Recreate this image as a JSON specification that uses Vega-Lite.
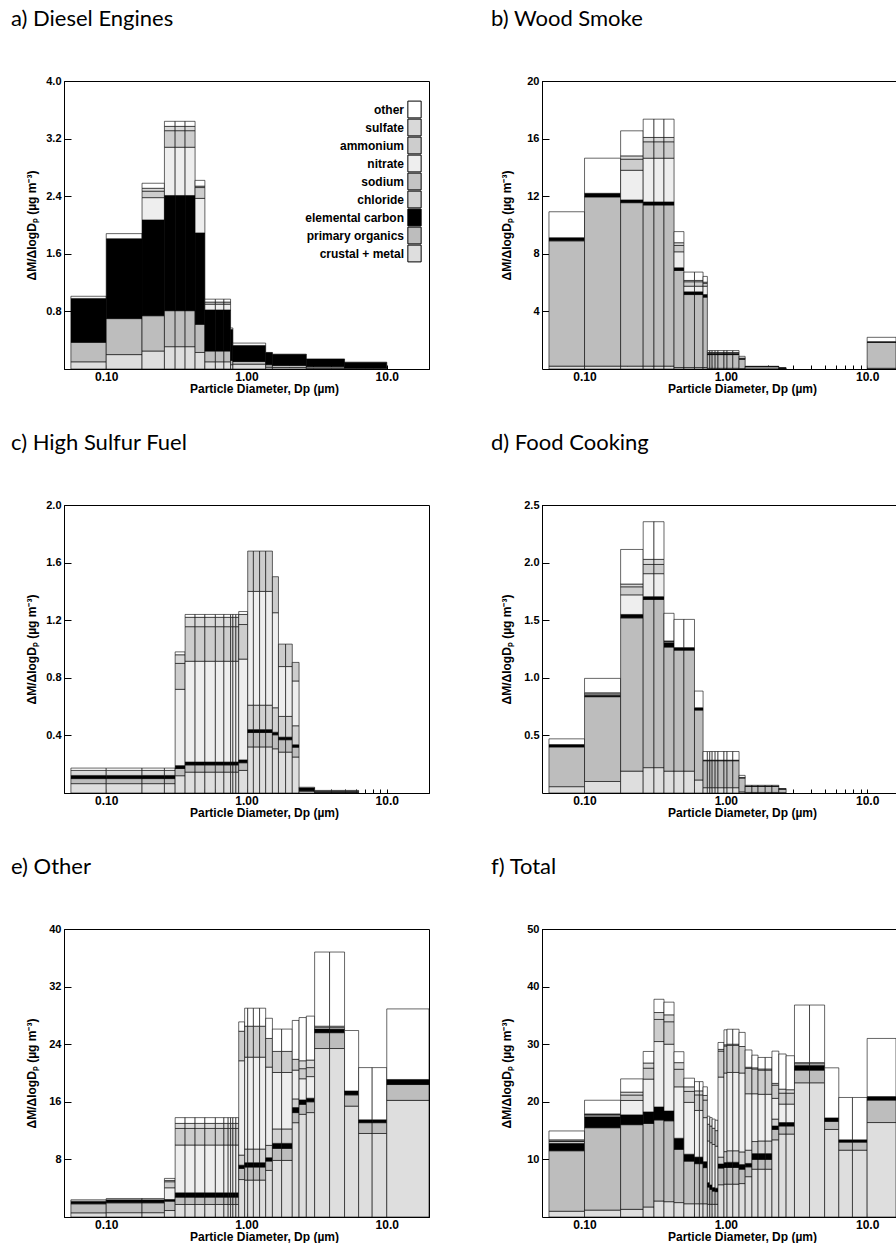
{
  "$schema": "https://vega.github.io/schema/vega-lite/v6.json",
  "background": "white",
  "padding": {"left": 10, "top": 7, "right": 0, "bottom": 0},
  "config": {
    "view": {"stroke": "black", "strokeWidth": 1},
    "axis": {"domainColor": "black", "tickColor": "black", "labelColor": "black", "titleColor": "black", "labelFont": "Liberation Sans", "labelFontWeight": "bold", "titleFont": "Liberation Sans", "titleFontWeight": "bold", "grid": false, "zindex": 1, "labelFlush": false, "labelOverlap": false},
    "axisX": {"labelFontSize": 12, "titleFontSize": 12, "tickSize": -4, "labelPadding": 6, "titlePadding": 1, "titleX": 200},
    "axisY": {"labelFontSize": 11, "titleFontSize": 12, "tickSize": -7, "labelPadding": 10},
    "title": {"font": "Lato", "fontSize": 22, "fontWeight": "normal", "anchor": "start", "frame": "group", "color": "black", "baseline": "alphabetic", "offset": 44}
  },
  "datasets": {
    "comp": [
      {"k": "c", "name": "crustal + metal", "ord": 1},
      {"k": "o", "name": "primary organics", "ord": 2},
      {"k": "e", "name": "elemental carbon", "ord": 3},
      {"k": "l", "name": "chloride", "ord": 4},
      {"k": "n", "name": "sodium", "ord": 5},
      {"k": "t", "name": "nitrate", "ord": 6},
      {"k": "a", "name": "ammonium", "ord": 7},
      {"k": "s", "name": "sulfate", "ord": 8},
      {"k": "r", "name": "other", "ord": 9}
    ],
    "bins": [
      {"p":"a","lo":0.056,"hi":0.1,"c":0.1,"o":0.27,"e":0.61,"r":0.03},
      {"p":"a","lo":0.1,"hi":0.18,"c":0.2,"o":0.5,"e":1.11,"r":0.07},
      {"p":"a","lo":0.18,"hi":0.26,"c":0.25,"o":0.49,"e":1.33,"t":0.31,"a":0.09,"s":0.04,"r":0.07},
      {"p":"a","lo":0.26,"hi":0.31,"c":0.31,"o":0.5,"e":1.6,"t":0.67,"a":0.23,"s":0.06,"r":0.07},
      {"p":"a","lo":0.31,"hi":0.365,"c":0.31,"o":0.5,"e":1.6,"t":0.67,"a":0.23,"s":0.06,"r":0.07},
      {"p":"a","lo":0.365,"hi":0.43,"c":0.31,"o":0.5,"e":1.6,"t":0.67,"a":0.23,"s":0.06,"r":0.07},
      {"p":"a","lo":0.43,"hi":0.505,"c":0.23,"o":0.39,"e":1.27,"t":0.48,"a":0.15,"s":0.02,"r":0.08},
      {"p":"a","lo":0.505,"hi":0.6,"c":0.1,"o":0.15,"e":0.57,"t":0.08,"a":0.03,"r":0.04},
      {"p":"a","lo":0.6,"hi":0.69,"c":0.1,"o":0.15,"e":0.57,"t":0.08,"a":0.03,"r":0.04},
      {"p":"a","lo":0.69,"hi":0.77,"c":0.1,"o":0.15,"e":0.57,"t":0.08,"a":0.03,"r":0.04},
      {"p":"a","lo":0.77,"hi":0.8,"c":0.06,"o":0.06,"e":0.43,"r":0.02},
      {"p":"a","lo":0.8,"hi":1.37,"c":0.067,"o":0.037,"e":0.223,"r":0.033},
      {"p":"a","lo":1.37,"hi":1.53,"c":0.025,"o":0.035,"e":0.165,"r":0.005},
      {"p":"a","lo":1.53,"hi":2.67,"c":0.02,"o":0.03,"e":0.15,"r":0.006},
      {"p":"a","lo":2.67,"hi":5,"c":0.01,"o":0.02,"e":0.11},
      {"p":"a","lo":5,"hi":10,"c":0.005,"o":0.01,"e":0.08},

      {"p":"b","lo":0.056,"hi":0.1,"c":0.2,"o":8.7,"e":0.22,"r":1.8},
      {"p":"b","lo":0.1,"hi":0.18,"c":0.2,"o":11.75,"e":0.25,"r":2.44},
      {"p":"b","lo":0.18,"hi":0.26,"c":0.2,"o":11.35,"e":0.19,"t":2.06,"a":0.77,"s":0.23,"r":1.74},
      {"p":"b","lo":0.26,"hi":0.31,"c":0.2,"o":11.19,"e":0.21,"t":3.04,"a":1.14,"s":0.3,"r":1.27},
      {"p":"b","lo":0.31,"hi":0.365,"c":0.2,"o":11.19,"e":0.21,"t":3.04,"a":1.14,"s":0.3,"r":1.27},
      {"p":"b","lo":0.365,"hi":0.43,"c":0.2,"o":11.19,"e":0.21,"t":3.04,"a":1.14,"s":0.3,"r":1.27},
      {"p":"b","lo":0.43,"hi":0.505,"c":0.1,"o":6.74,"e":0.19,"t":1.11,"a":0.44,"s":0.19,"r":0.77},
      {"p":"b","lo":0.505,"hi":0.6,"c":0.1,"o":5.07,"e":0.19,"t":0.39,"a":0.31,"s":0.09,"r":0.58},
      {"p":"b","lo":0.6,"hi":0.69,"c":0.1,"o":5.07,"e":0.19,"t":0.39,"a":0.31,"s":0.09,"r":0.58},
      {"p":"b","lo":0.69,"hi":0.74,"c":0.1,"o":4.89,"e":0.18,"t":0.58,"a":0.2,"s":0.08,"r":0.4},
      {"p":"b","lo":0.74,"hi":0.77,"c":0.05,"o":0.95,"e":0.05,"t":0.05,"a":0.05,"r":0.13},
      {"p":"b","lo":0.77,"hi":0.8,"c":0.05,"o":0.95,"e":0.05,"t":0.05,"a":0.05,"r":0.13},
      {"p":"b","lo":0.8,"hi":0.84,"c":0.05,"o":0.95,"e":0.05,"t":0.05,"a":0.05,"r":0.13},
      {"p":"b","lo":0.84,"hi":0.88,"c":0.05,"o":0.95,"e":0.05,"t":0.05,"a":0.05,"r":0.13},
      {"p":"b","lo":0.88,"hi":0.97,"c":0.05,"o":0.95,"e":0.05,"t":0.05,"a":0.05,"r":0.13},
      {"p":"b","lo":0.97,"hi":1.02,"c":0.05,"o":0.95,"e":0.05,"t":0.05,"a":0.05,"r":0.13},
      {"p":"b","lo":1.02,"hi":1.12,"c":0.05,"o":0.95,"e":0.05,"t":0.05,"a":0.05,"r":0.13},
      {"p":"b","lo":1.12,"hi":1.24,"c":0.05,"o":0.95,"e":0.05,"t":0.05,"a":0.05,"r":0.13},
      {"p":"b","lo":1.24,"hi":1.37,"c":0.03,"o":0.65,"e":0.04,"t":0.04,"r":0.12},
      {"p":"b","lo":1.37,"hi":2.37,"c":0.01,"o":0.15,"e":0.01,"r":0.02},
      {"p":"b","lo":2.37,"hi":2.67,"c":0.005,"o":0.06,"e":0.005,"r":0.01},
      {"p":"b","lo":10,"hi":20,"c":0.05,"o":1.8,"e":0.05,"r":0.3},

      {"p":"c","lo":0.056,"hi":0.1,"c":0.065,"o":0.035,"e":0.022,"s":0.035,"r":0.016},
      {"p":"c","lo":0.1,"hi":0.18,"c":0.065,"o":0.035,"e":0.022,"s":0.035,"r":0.016},
      {"p":"c","lo":0.18,"hi":0.26,"c":0.065,"o":0.035,"e":0.022,"s":0.035,"r":0.016},
      {"p":"c","lo":0.26,"hi":0.31,"c":0.065,"o":0.035,"e":0.022,"s":0.035,"r":0.016},
      {"p":"c","lo":0.31,"hi":0.365,"c":0.12,"o":0.05,"e":0.02,"t":0.53,"a":0.18,"s":0.06,"r":0.02},
      {"p":"c","lo":0.365,"hi":0.43,"c":0.145,"o":0.05,"e":0.02,"t":0.7,"a":0.24,"s":0.065,"r":0.02},
      {"p":"c","lo":0.43,"hi":0.505,"c":0.145,"o":0.05,"e":0.02,"t":0.7,"a":0.24,"s":0.065,"r":0.02},
      {"p":"c","lo":0.505,"hi":0.6,"c":0.145,"o":0.05,"e":0.02,"t":0.7,"a":0.24,"s":0.065,"r":0.02},
      {"p":"c","lo":0.6,"hi":0.69,"c":0.145,"o":0.05,"e":0.02,"t":0.7,"a":0.24,"s":0.065,"r":0.02},
      {"p":"c","lo":0.69,"hi":0.77,"c":0.145,"o":0.05,"e":0.02,"t":0.7,"a":0.24,"s":0.065,"r":0.02},
      {"p":"c","lo":0.77,"hi":0.8,"c":0.145,"o":0.05,"e":0.02,"t":0.7,"a":0.24,"s":0.065,"r":0.02},
      {"p":"c","lo":0.8,"hi":0.84,"c":0.145,"o":0.05,"e":0.02,"t":0.7,"a":0.24,"s":0.065,"r":0.02},
      {"p":"c","lo":0.84,"hi":0.88,"c":0.145,"o":0.05,"e":0.02,"t":0.7,"a":0.24,"s":0.065,"r":0.02},
      {"p":"c","lo":0.88,"hi":1.02,"c":0.157,"o":0.053,"e":0.02,"t":0.7,"a":0.24,"s":0.07,"r":0.02},
      {"p":"c","lo":1.02,"hi":1.12,"c":0.32,"o":0.1,"e":0.02,"t":0.79,"a":0.28,"l":0.17},
      {"p":"c","lo":1.12,"hi":1.24,"c":0.32,"o":0.1,"e":0.02,"t":0.79,"a":0.28,"l":0.17},
      {"p":"c","lo":1.24,"hi":1.37,"c":0.32,"o":0.1,"e":0.02,"t":0.79,"a":0.28,"l":0.17},
      {"p":"c","lo":1.37,"hi":1.53,"c":0.32,"o":0.1,"e":0.02,"t":0.79,"a":0.28,"l":0.17},
      {"p":"c","lo":1.53,"hi":1.69,"c":0.307,"o":0.097,"e":0.018,"t":0.66,"a":0.25,"l":0.17},
      {"p":"c","lo":1.69,"hi":1.9,"c":0.284,"o":0.086,"e":0.018,"t":0.346,"a":0.156,"l":0.144},
      {"p":"c","lo":1.9,"hi":2.12,"c":0.284,"o":0.086,"e":0.018,"t":0.346,"a":0.156,"l":0.144},
      {"p":"c","lo":2.12,"hi":2.37,"c":0.25,"o":0.068,"e":0.017,"t":0.311,"a":0.129,"l":0.132},
      {"p":"c","lo":2.37,"hi":3.06,"c":0.012,"o":0.005,"e":0.018,"r":0.005},
      {"p":"c","lo":3.06,"hi":6.3,"c":0.005,"e":0.008,"r":0.005},

      {"p":"d","lo":0.056,"hi":0.1,"c":0.055,"o":0.345,"e":0.02,"r":0.05},
      {"p":"d","lo":0.1,"hi":0.18,"c":0.1,"o":0.736,"e":0.012,"t":0.012,"s":0.01,"r":0.125},
      {"p":"d","lo":0.18,"hi":0.26,"c":0.19,"o":1.33,"e":0.03,"t":0.17,"a":0.07,"s":0.024,"r":0.3},
      {"p":"d","lo":0.26,"hi":0.31,"c":0.22,"o":1.46,"e":0.024,"t":0.2,"a":0.08,"s":0.044,"r":0.327},
      {"p":"d","lo":0.31,"hi":0.365,"c":0.22,"o":1.46,"e":0.024,"t":0.2,"a":0.08,"s":0.044,"r":0.327},
      {"p":"d","lo":0.365,"hi":0.43,"c":0.19,"o":1.077,"e":0.038,"t":0.01,"s":0.005,"r":0.24},
      {"p":"d","lo":0.43,"hi":0.505,"c":0.19,"o":1.05,"e":0.022,"r":0.245},
      {"p":"d","lo":0.505,"hi":0.6,"c":0.19,"o":1.05,"e":0.022,"r":0.245},
      {"p":"d","lo":0.6,"hi":0.69,"c":0.113,"o":0.607,"e":0.02,"r":0.145},
      {"p":"d","lo":0.69,"hi":0.74,"c":0.046,"o":0.234,"e":0.005,"r":0.075},
      {"p":"d","lo":0.74,"hi":0.77,"c":0.046,"o":0.234,"e":0.005,"r":0.075},
      {"p":"d","lo":0.77,"hi":0.8,"c":0.046,"o":0.234,"e":0.005,"r":0.075},
      {"p":"d","lo":0.8,"hi":0.84,"c":0.046,"o":0.234,"e":0.005,"r":0.075},
      {"p":"d","lo":0.84,"hi":0.88,"c":0.046,"o":0.234,"e":0.005,"r":0.075},
      {"p":"d","lo":0.88,"hi":0.97,"c":0.046,"o":0.234,"e":0.005,"r":0.075},
      {"p":"d","lo":0.97,"hi":1.02,"c":0.046,"o":0.234,"e":0.005,"r":0.075},
      {"p":"d","lo":1.02,"hi":1.12,"c":0.046,"o":0.234,"e":0.005,"r":0.075},
      {"p":"d","lo":1.12,"hi":1.24,"c":0.046,"o":0.234,"e":0.005,"r":0.075},
      {"p":"d","lo":1.24,"hi":1.37,"c":0.01,"o":0.12,"e":0.005,"r":0.018},
      {"p":"d","lo":1.37,"hi":1.53,"c":0.005,"o":0.052,"e":0.003,"r":0.007},
      {"p":"d","lo":1.53,"hi":1.69,"c":0.005,"o":0.052,"e":0.003,"r":0.007},
      {"p":"d","lo":1.69,"hi":1.9,"c":0.005,"o":0.052,"e":0.003,"r":0.007},
      {"p":"d","lo":1.9,"hi":2.12,"c":0.005,"o":0.052,"e":0.003,"r":0.007},
      {"p":"d","lo":2.12,"hi":2.37,"c":0.005,"o":0.052,"e":0.003,"r":0.007},
      {"p":"d","lo":2.37,"hi":2.67,"c":0.003,"o":0.03,"e":0.005},

      {"p":"e","lo":0.056,"hi":0.1,"c":0.58,"o":1.25,"e":0.37,"r":0.19},
      {"p":"e","lo":0.1,"hi":0.18,"c":0.6,"o":1.37,"e":0.42,"r":0.18},
      {"p":"e","lo":0.18,"hi":0.26,"c":0.6,"o":1.37,"e":0.42,"r":0.18},
      {"p":"e","lo":0.26,"hi":0.31,"c":0.9,"o":1.3,"e":0.23,"t":1.63,"a":0.84,"s":0.18,"r":0.28},
      {"p":"e","lo":0.31,"hi":0.365,"c":1.74,"o":1.02,"e":0.6,"t":6.64,"a":2.3,"s":0.7,"r":0.8},
      {"p":"e","lo":0.365,"hi":0.43,"c":1.74,"o":1.02,"e":0.6,"t":6.64,"a":2.3,"s":0.7,"r":0.8},
      {"p":"e","lo":0.43,"hi":0.505,"c":1.74,"o":1.02,"e":0.6,"t":6.64,"a":2.3,"s":0.7,"r":0.8},
      {"p":"e","lo":0.505,"hi":0.6,"c":1.74,"o":1.02,"e":0.6,"t":6.64,"a":2.3,"s":0.7,"r":0.8},
      {"p":"e","lo":0.6,"hi":0.69,"c":1.74,"o":1.02,"e":0.6,"t":6.64,"a":2.3,"s":0.7,"r":0.8},
      {"p":"e","lo":0.69,"hi":0.74,"c":1.74,"o":1.02,"e":0.6,"t":6.64,"a":2.3,"s":0.7,"r":0.8},
      {"p":"e","lo":0.74,"hi":0.77,"c":1.74,"o":1.02,"e":0.6,"t":6.64,"a":2.3,"s":0.7,"r":0.8},
      {"p":"e","lo":0.77,"hi":0.8,"c":1.74,"o":1.02,"e":0.6,"t":6.64,"a":2.3,"s":0.7,"r":0.8},
      {"p":"e","lo":0.8,"hi":0.84,"c":1.74,"o":1.02,"e":0.6,"t":6.64,"a":2.3,"s":0.7,"r":0.8},
      {"p":"e","lo":0.84,"hi":0.88,"c":1.74,"o":1.02,"e":0.6,"t":6.64,"a":2.3,"s":0.7,"r":0.8},
      {"p":"e","lo":0.88,"hi":0.97,"c":5.2,"o":1.55,"e":0.45,"t":13.1,"a":4.1,"l":1.4,"r":1.3},
      {"p":"e","lo":0.97,"hi":1.02,"c":5.13,"o":1.81,"e":0.6,"t":12.76,"a":4.3,"l":1.9,"r":2.5},
      {"p":"e","lo":1.02,"hi":1.12,"c":5.13,"o":1.81,"e":0.6,"t":12.76,"a":4.3,"l":1.9,"r":2.5},
      {"p":"e","lo":1.12,"hi":1.24,"c":5.13,"o":1.81,"e":0.6,"t":12.76,"a":4.3,"l":1.9,"r":2.5},
      {"p":"e","lo":1.24,"hi":1.37,"c":5.13,"o":1.81,"e":0.6,"t":12.76,"a":4.3,"l":1.9,"r":2.5},
      {"p":"e","lo":1.37,"hi":1.53,"c":6.47,"o":1.3,"e":0.46,"t":10.87,"a":3.98,"l":1.72,"r":2.8},
      {"p":"e","lo":1.53,"hi":1.78,"c":7.86,"o":1.67,"e":0.7,"t":7.84,"a":2.93,"l":2.0,"r":3.1},
      {"p":"e","lo":1.78,"hi":2.12,"c":7.86,"o":1.67,"e":0.7,"t":7.84,"a":2.93,"l":2.0,"r":3.1},
      {"p":"e","lo":2.12,"hi":2.37,"c":13.1,"o":1.4,"e":0.7,"t":4.0,"a":1.5,"l":1.2,"r":5.4},
      {"p":"e","lo":2.37,"hi":2.67,"c":14.26,"o":1.39,"e":0.61,"t":2.94,"a":1.4,"s":1.1,"r":6.0},
      {"p":"e","lo":2.67,"hi":3.06,"c":14.5,"o":1.5,"e":0.5,"t":3.0,"a":1.25,"s":1.05,"r":6.1},
      {"p":"e","lo":3.06,"hi":3.91,"c":23.4,"o":2.2,"e":0.5,"t":0.2,"s":0.2,"r":10.3},
      {"p":"e","lo":3.91,"hi":5,"c":23.4,"o":2.2,"e":0.5,"t":0.2,"s":0.2,"r":10.3},
      {"p":"e","lo":5,"hi":6.3,"c":15.4,"o":1.56,"e":0.54,"r":8.4},
      {"p":"e","lo":6.3,"hi":7.87,"c":11.6,"o":1.5,"e":0.4,"r":7.25},
      {"p":"e","lo":7.87,"hi":10,"c":11.6,"o":1.5,"e":0.4,"r":7.25},
      {"p":"e","lo":10,"hi":20,"c":16.2,"o":2.2,"e":0.7,"r":9.8},

      {"p":"f","lo":0.056,"hi":0.1,"c":1.0,"o":10.5,"e":1.3,"t":0.3,"a":0.1,"s":0.2,"r":1.54},
      {"p":"f","lo":0.1,"hi":0.18,"c":1.2,"o":14.3,"e":1.9,"t":0.3,"a":0.1,"s":0.1,"r":2.37},
      {"p":"f","lo":0.18,"hi":0.26,"c":1.33,"o":14.7,"e":1.7,"t":2.5,"a":0.95,"s":0.5,"r":2.3},
      {"p":"f","lo":0.26,"hi":0.31,"c":1.74,"o":14.5,"e":2.0,"t":5.7,"a":1.9,"s":0.9,"r":2.0},
      {"p":"f","lo":0.31,"hi":0.365,"c":2.78,"o":14.07,"e":2.25,"t":11.36,"a":3.84,"s":1.2,"r":2.3},
      {"p":"f","lo":0.365,"hi":0.43,"c":2.66,"o":14.04,"e":1.7,"t":11.6,"a":3.9,"s":1.2,"r":2.2},
      {"p":"f","lo":0.43,"hi":0.505,"c":2.5,"o":9.25,"e":1.92,"t":8.93,"a":3.05,"s":1.15,"r":1.9},
      {"p":"f","lo":0.505,"hi":0.6,"c":2.3,"o":7.4,"e":1.2,"t":9.0,"a":1.9,"s":0.8,"r":1.5},
      {"p":"f","lo":0.6,"hi":0.65,"c":2.3,"o":6.96,"e":1.14,"t":8.1,"a":2.7,"s":0.7,"r":1.6},
      {"p":"f","lo":0.65,"hi":0.69,"c":2.3,"o":6.96,"e":1.14,"t":8.1,"a":2.7,"s":0.7,"r":1.6},
      {"p":"f","lo":0.69,"hi":0.74,"c":2.3,"o":6.27,"e":1.03,"t":7.65,"a":3.05,"s":0.8,"r":1.5},
      {"p":"f","lo":0.74,"hi":0.77,"c":2.2,"o":3.0,"e":0.76,"t":7.24,"a":2.9,"r":1.4},
      {"p":"f","lo":0.77,"hi":0.8,"c":2.2,"o":2.6,"e":0.76,"t":7.34,"a":2.9,"r":1.45},
      {"p":"f","lo":0.8,"hi":0.84,"c":2.2,"o":2.3,"e":0.6,"t":7.5,"a":2.8,"r":1.6},
      {"p":"f","lo":0.84,"hi":0.88,"c":2.2,"o":2.2,"e":0.6,"t":7.3,"a":2.7,"r":1.8},
      {"p":"f","lo":0.88,"hi":0.97,"c":5.6,"o":2.9,"e":0.7,"t":13.9,"a":4.5,"l":1.2,"s":0.3,"r":1.2},
      {"p":"f","lo":0.97,"hi":1.02,"c":5.7,"o":2.9,"e":0.85,"t":13.65,"a":4.7,"l":1.9,"s":0.2,"r":2.6},
      {"p":"f","lo":1.02,"hi":1.12,"c":5.7,"o":2.9,"e":0.9,"t":13.6,"a":4.7,"l":2.0,"s":0.2,"r":2.6},
      {"p":"f","lo":1.12,"hi":1.24,"c":5.7,"o":2.9,"e":0.9,"t":13.6,"a":4.7,"l":2.0,"s":0.2,"r":2.6},
      {"p":"f","lo":1.24,"hi":1.37,"c":5.8,"o":2.5,"e":0.8,"t":13.7,"a":4.6,"l":2.2,"r":2.45},
      {"p":"f","lo":1.37,"hi":1.53,"c":7.0,"o":1.7,"e":0.6,"t":9.8,"a":4.4,"l":2.3,"s":0.2,"r":3.0},
      {"p":"f","lo":1.53,"hi":1.69,"c":8.3,"o":1.7,"e":1.0,"t":8.3,"a":4.3,"l":2.1,"s":0.2,"r":2.2},
      {"p":"f","lo":1.69,"hi":1.9,"c":8.3,"o":1.7,"e":1.0,"t":8.1,"a":4.2,"l":2.2,"s":0.2,"r":2.0},
      {"p":"f","lo":1.9,"hi":2.12,"c":8.3,"o":1.7,"e":1.0,"t":8.1,"a":4.2,"l":2.2,"s":0.2,"r":2.0},
      {"p":"f","lo":2.12,"hi":2.37,"c":13.4,"o":1.8,"e":0.6,"t":3.6,"a":2.3,"l":1.2,"s":0.3,"r":5.6},
      {"p":"f","lo":2.37,"hi":2.67,"c":14.4,"o":1.4,"e":0.6,"t":3.2,"a":1.9,"s":0.7,"r":6.1},
      {"p":"f","lo":2.67,"hi":3.06,"c":14.4,"o":1.4,"e":0.6,"t":3.2,"a":1.9,"s":0.6,"r":5.9},
      {"p":"f","lo":3.06,"hi":3.91,"c":23.3,"o":2.2,"e":0.8,"t":0.3,"s":0.2,"r":10.0},
      {"p":"f","lo":3.91,"hi":5,"c":23.3,"o":2.2,"e":0.8,"t":0.3,"s":0.2,"r":10.0},
      {"p":"f","lo":5,"hi":6.3,"c":15.2,"o":1.4,"e":0.6,"r":8.7},
      {"p":"f","lo":6.3,"hi":7.87,"c":11.6,"o":1.4,"e":0.4,"r":7.35},
      {"p":"f","lo":7.87,"hi":10,"c":11.6,"o":1.4,"e":0.4,"r":7.35},
      {"p":"f","lo":10,"hi":20,"c":16.4,"o":3.9,"e":0.6,"r":10.1}
    ]
  },
  "resolve": {"scale": {"fill": "independent"}, "legend": {"fill": "independent"}},
  "spacing": 36,
  "vconcat": [
    {
      "resolve": {"scale": {"fill": "independent"}, "legend": {"fill": "independent"}},
      "spacing": 61,
      "hconcat": [
        {
          "title": {"text": "a) Diesel Engines", "dx": -53},
          "width": 365, "height": 288,
          "data": {"name": "bins"},
          "transform": [
            {"filter": "datum.p == 'a'"},
            {"fold": ["c","o","e","l","n","t","a","s","r"], "as": ["k","v"]},
            {"filter": "datum.v > 0"},
            {"lookup": "k", "from": {"data": {"name": "comp"}, "key": "k", "fields": ["name","ord"]}},
            {"stack": "v", "groupby": ["lo"], "sort": [{"field": "ord", "order": "ascending"}], "as": ["y0","y1"]}
          ],
          "mark": {"type": "rect", "stroke": "black", "strokeWidth": 0.6},
          "encoding": {
            "x": {"field": "lo", "type": "quantitative", "scale": {"type": "log", "domain": [0.05, 20], "nice": false},
                  "axis": {"values": [0.06,0.07,0.08,0.09,0.1,0.2,0.3,0.4,0.5,0.6,0.7,0.8,0.9,1,2,3,4,5,6,7,8,9,10,20], "labelExpr": "datum.value == 0.1 ? '0.10' : datum.value == 1 ? '1.00' : datum.value == 10 ? '10.0' : ''", "title": "Particle Diameter, Dp   (µm)"}},
            "x2": {"field": "hi"},
            "y": {"field": "y1", "type": "quantitative", "scale": {"domain": [0, 4], "nice": false},
                  "axis": {"values": [0.8,1.6,2.4,3.2,4.0], "format": ".1f", "title": "ΔM/ΔlogDₚ  (µg m⁻³)", "titleX": -26}},
            "y2": {"field": "y0"},
            "fill": {"field": "name", "type": "nominal",
                     "scale": {"domain": ["other","sulfate","ammonium","nitrate","sodium","chloride","elemental carbon","primary organics","crustal + metal"], "range": ["#ffffff","#d9d9d9","#cdcdcd","#eeeeee","#c4c4c4","#d2d2d2","#000000","#bdbdbd","#dedede"]},
                     "legend": {"orient": "none", "legendX": 343, "legendY": 21, "title": null, "symbolType": "M-0.95,-1.2H0.95V1.2H-0.95Z", "symbolSize": 196, "symbolStrokeColor": "black", "symbolStrokeWidth": 1, "symbolOpacity": 1, "labelAlign": "right", "labelOffset": -18, "labelFont": "Liberation Sans", "labelFontWeight": "bold", "labelFontSize": 12, "labelColor": "black", "rowPadding": -4, "padding": 0, "labelLimit": 200}}
          }
        },
        {
          "title": {"text": "b) Wood Smoke", "dx": -51},
          "width": 354, "height": 288,
          "view": {"stroke": null},
          "data": {"name": "bins"},
          "transform": [
            {"filter": "datum.p == 'b'"},
            {"fold": ["c","o","e","l","n","t","a","s","r"], "as": ["k","v"]},
            {"filter": "datum.v > 0"},
            {"lookup": "k", "from": {"data": {"name": "comp"}, "key": "k", "fields": ["name","ord"]}},
            {"stack": "v", "groupby": ["lo"], "sort": [{"field": "ord", "order": "ascending"}], "as": ["y0","y1"]}
          ],
          "layer": [
            {
              "mark": {"type": "rect", "stroke": "black", "strokeWidth": 0.6},
              "encoding": {
                "x": {"field": "lo", "type": "quantitative", "scale": {"type": "log", "domain": [0.05, 16], "nice": false, "clamp": true},
                      "axis": {"values": [0.06,0.07,0.08,0.09,0.1,0.2,0.3,0.4,0.5,0.6,0.7,0.8,0.9,1,2,3,4,5,6,7,8,9,10], "labelExpr": "datum.value == 0.1 ? '0.10' : datum.value == 1 ? '1.00' : datum.value == 10 ? '10.0' : ''", "title": "Particle Diameter, Dp   (µm)"}},
                "x2": {"field": "hi"},
                "y": {"field": "y1", "type": "quantitative", "scale": {"domain": [0, 20], "nice": false},
                      "axis": {"values": [4,8,12,16,20], "format": "d", "title": "ΔM/ΔlogDₚ  (µg m⁻³)", "titleX": -29}},
                "y2": {"field": "y0"},
                "fill": {"field": "name", "type": "nominal",
                         "scale": {"domain": ["other","sulfate","ammonium","nitrate","sodium","chloride","elemental carbon","primary organics","crustal + metal"], "range": ["#ffffff","#d9d9d9","#cdcdcd","#eeeeee","#c4c4c4","#d2d2d2","#000000","#bdbdbd","#dedede"]},
                         "legend": null}
              }
            },
            {
              "mark": {"type": "rule", "color": "black", "strokeWidth": 1, "yOffset": 0.5},
              "encoding": {"y": {"datum": 20, "type": "quantitative"}}
            }
          ]
        }
      ]
    },
    {
      "resolve": {"scale": {"fill": "independent"}, "legend": {"fill": "independent"}},
      "spacing": 61,
      "hconcat": [
        {
          "title": {"text": "c) High Sulfur Fuel", "dx": -53},
          "width": 365, "height": 288,
          "data": {"name": "bins"},
          "transform": [
            {"filter": "datum.p == 'c'"},
            {"fold": ["c","o","e","l","n","t","a","s","r"], "as": ["k","v"]},
            {"filter": "datum.v > 0"},
            {"lookup": "k", "from": {"data": {"name": "comp"}, "key": "k", "fields": ["name","ord"]}},
            {"stack": "v", "groupby": ["lo"], "sort": [{"field": "ord", "order": "ascending"}], "as": ["y0","y1"]}
          ],
          "mark": {"type": "rect", "stroke": "black", "strokeWidth": 0.6},
          "encoding": {
            "x": {"field": "lo", "type": "quantitative", "scale": {"type": "log", "domain": [0.05, 20], "nice": false},
                  "axis": {"values": [0.06,0.07,0.08,0.09,0.1,0.2,0.3,0.4,0.5,0.6,0.7,0.8,0.9,1,2,3,4,5,6,7,8,9,10,20], "labelExpr": "datum.value == 0.1 ? '0.10' : datum.value == 1 ? '1.00' : datum.value == 10 ? '10.0' : ''", "title": "Particle Diameter, Dp   (µm)"}},
            "x2": {"field": "hi"},
            "y": {"field": "y1", "type": "quantitative", "scale": {"domain": [0, 2], "nice": false},
                  "axis": {"values": [0.4,0.8,1.2,1.6,2.0], "format": ".1f", "title": "ΔM/ΔlogDₚ  (µg m⁻³)", "titleX": -26}},
            "y2": {"field": "y0"},
            "fill": {"field": "name", "type": "nominal",
                     "scale": {"domain": ["other","sulfate","ammonium","nitrate","sodium","chloride","elemental carbon","primary organics","crustal + metal"], "range": ["#ffffff","#d9d9d9","#cdcdcd","#eeeeee","#c4c4c4","#d2d2d2","#000000","#bdbdbd","#dedede"]},
                     "legend": null}
          }
        },
        {
          "title": {"text": "d) Food Cooking", "dx": -51},
          "width": 354, "height": 288,
          "view": {"stroke": null},
          "data": {"name": "bins"},
          "transform": [
            {"filter": "datum.p == 'd'"},
            {"fold": ["c","o","e","l","n","t","a","s","r"], "as": ["k","v"]},
            {"filter": "datum.v > 0"},
            {"lookup": "k", "from": {"data": {"name": "comp"}, "key": "k", "fields": ["name","ord"]}},
            {"stack": "v", "groupby": ["lo"], "sort": [{"field": "ord", "order": "ascending"}], "as": ["y0","y1"]}
          ],
          "layer": [
            {
              "mark": {"type": "rect", "stroke": "black", "strokeWidth": 0.6},
              "encoding": {
                "x": {"field": "lo", "type": "quantitative", "scale": {"type": "log", "domain": [0.05, 16], "nice": false, "clamp": true},
                      "axis": {"values": [0.06,0.07,0.08,0.09,0.1,0.2,0.3,0.4,0.5,0.6,0.7,0.8,0.9,1,2,3,4,5,6,7,8,9,10], "labelExpr": "datum.value == 0.1 ? '0.10' : datum.value == 1 ? '1.00' : datum.value == 10 ? '10.0' : ''", "title": "Particle Diameter, Dp   (µm)"}},
                "x2": {"field": "hi"},
                "y": {"field": "y1", "type": "quantitative", "scale": {"domain": [0, 2.5], "nice": false},
                      "axis": {"values": [0.5,1.0,1.5,2.0,2.5], "format": ".1f", "title": "ΔM/ΔlogDₚ  (µg m⁻³)", "titleX": -29}},
                "y2": {"field": "y0"},
                "fill": {"field": "name", "type": "nominal",
                         "scale": {"domain": ["other","sulfate","ammonium","nitrate","sodium","chloride","elemental carbon","primary organics","crustal + metal"], "range": ["#ffffff","#d9d9d9","#cdcdcd","#eeeeee","#c4c4c4","#d2d2d2","#000000","#bdbdbd","#dedede"]},
                         "legend": null}
              }
            },
            {
              "mark": {"type": "rule", "color": "black", "strokeWidth": 1, "yOffset": 0.5},
              "encoding": {"y": {"datum": 2.5, "type": "quantitative"}}
            }
          ]
        }
      ]
    },
    {
      "resolve": {"scale": {"fill": "independent"}, "legend": {"fill": "independent"}},
      "spacing": 61,
      "hconcat": [
        {
          "title": {"text": "e) Other", "dx": -53},
          "width": 365, "height": 288,
          "data": {"name": "bins"},
          "transform": [
            {"filter": "datum.p == 'e'"},
            {"fold": ["c","o","e","l","n","t","a","s","r"], "as": ["k","v"]},
            {"filter": "datum.v > 0"},
            {"lookup": "k", "from": {"data": {"name": "comp"}, "key": "k", "fields": ["name","ord"]}},
            {"stack": "v", "groupby": ["lo"], "sort": [{"field": "ord", "order": "ascending"}], "as": ["y0","y1"]}
          ],
          "mark": {"type": "rect", "stroke": "black", "strokeWidth": 0.6},
          "encoding": {
            "x": {"field": "lo", "type": "quantitative", "scale": {"type": "log", "domain": [0.05, 20], "nice": false},
                  "axis": {"values": [0.06,0.07,0.08,0.09,0.1,0.2,0.3,0.4,0.5,0.6,0.7,0.8,0.9,1,2,3,4,5,6,7,8,9,10,20], "labelExpr": "datum.value == 0.1 ? '0.10' : datum.value == 1 ? '1.00' : datum.value == 10 ? '10.0' : ''", "title": "Particle Diameter, Dp   (µm)"}},
            "x2": {"field": "hi"},
            "y": {"field": "y1", "type": "quantitative", "scale": {"domain": [0, 40], "nice": false},
                  "axis": {"values": [8,16,24,32,40], "format": "d", "title": "ΔM/ΔlogDₚ  (µg m⁻³)", "titleX": -26}},
            "y2": {"field": "y0"},
            "fill": {"field": "name", "type": "nominal",
                     "scale": {"domain": ["other","sulfate","ammonium","nitrate","sodium","chloride","elemental carbon","primary organics","crustal + metal"], "range": ["#ffffff","#d9d9d9","#cdcdcd","#eeeeee","#c4c4c4","#d2d2d2","#000000","#bdbdbd","#dedede"]},
                     "legend": null}
          }
        },
        {
          "title": {"text": "f) Total", "dx": -51},
          "width": 354, "height": 288,
          "view": {"stroke": null},
          "data": {"name": "bins"},
          "transform": [
            {"filter": "datum.p == 'f'"},
            {"fold": ["c","o","e","l","n","t","a","s","r"], "as": ["k","v"]},
            {"filter": "datum.v > 0"},
            {"lookup": "k", "from": {"data": {"name": "comp"}, "key": "k", "fields": ["name","ord"]}},
            {"stack": "v", "groupby": ["lo"], "sort": [{"field": "ord", "order": "ascending"}], "as": ["y0","y1"]}
          ],
          "layer": [
            {
              "mark": {"type": "rect", "stroke": "black", "strokeWidth": 0.6},
              "encoding": {
                "x": {"field": "lo", "type": "quantitative", "scale": {"type": "log", "domain": [0.05, 16], "nice": false, "clamp": true},
                      "axis": {"values": [0.06,0.07,0.08,0.09,0.1,0.2,0.3,0.4,0.5,0.6,0.7,0.8,0.9,1,2,3,4,5,6,7,8,9,10], "labelExpr": "datum.value == 0.1 ? '0.10' : datum.value == 1 ? '1.00' : datum.value == 10 ? '10.0' : ''", "title": "Particle Diameter, Dp   (µm)"}},
                "x2": {"field": "hi"},
                "y": {"field": "y1", "type": "quantitative", "scale": {"domain": [0, 50], "nice": false},
                      "axis": {"values": [10,20,30,40,50], "format": "d", "title": "ΔM/ΔlogDₚ  (µg m⁻³)", "titleX": -29}},
                "y2": {"field": "y0"},
                "fill": {"field": "name", "type": "nominal",
                         "scale": {"domain": ["other","sulfate","ammonium","nitrate","sodium","chloride","elemental carbon","primary organics","crustal + metal"], "range": ["#ffffff","#d9d9d9","#cdcdcd","#eeeeee","#c4c4c4","#d2d2d2","#000000","#bdbdbd","#dedede"]},
                         "legend": null}
              }
            },
            {
              "mark": {"type": "rule", "color": "black", "strokeWidth": 1, "yOffset": 0.5},
              "encoding": {"y": {"datum": 50, "type": "quantitative"}}
            }
          ]
        }
      ]
    }
  ]
}
